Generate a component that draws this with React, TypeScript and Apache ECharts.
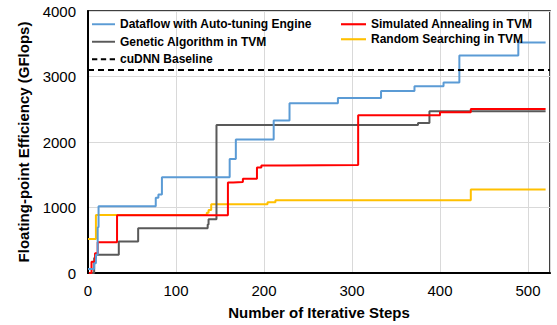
import React, { useEffect, useRef } from "react";
import * as echarts from "echarts";

// [step, GFlops] points; the value changes at the given step
const dataflowSteps = [
  [0, 60], [7, 150], [9, 280], [11, 700], [12, 1020], [77, 1150], [80, 1200], [84, 1460],
  [161, 1740], [168, 2040], [211, 2330], [229, 2590], [284, 2670], [333, 2780],
  [371, 2850], [404, 2910], [422, 3320], [489, 3520], [520, 3520],
];
const geneticSteps = [
  [2, 0], [7, 230], [9, 280], [35, 480], [57, 683], [136, 740], [137, 820],
  [146, 2258], [375, 2290], [388, 2470], [520, 2470],
];
const annealingSteps = [
  [1, 0], [4, 170], [8, 300], [11, 470], [33, 880], [159, 1380], [165, 1390],
  [176, 1440], [192, 1610], [197, 1640], [223, 1650], [307, 2410], [400, 2455],
  [435, 2505], [520, 2505],
];
const randomSteps = [
  [0, 520], [9, 885], [135, 920], [137, 960], [140, 1050], [204, 1080], [213, 1110],
  [435, 1275], [520, 1275],
];
const cudnnBaseline = 3100;
const xMax = 525;

const FONT = "'Liberation Sans', Arial, sans-serif";
const SOLID_ICON = "path://M0,0h26v2.2h-26z";
const DASH_ICON = "path://M0,0h6v2.2h-6zM10,0h6v2.2h-6zM20,0h6v2.2h-6z";

export default function App() {
  const ref = useRef<HTMLDivElement>(null);
  useEffect(() => {
    if (!ref.current) return;
    const chart = echarts.init(ref.current, undefined, { renderer: "svg" });
    const legendText = { fontFamily: FONT, fontSize: 12, fontWeight: "bold", color: "#000", lineHeight: 12.5 };
    chart.setOption({
      animation: false,
      textStyle: { fontFamily: FONT },
      grid: {
        left: 88, right: 7, top: 11, bottom: 48,
        show: true, borderColor: "#000", borderWidth: 1.5,
      },
      legend: [
        {
          data: [
            { name: "Dataflow with Auto-tuning Engine", icon: SOLID_ICON },
            { name: "Genetic Algorithm in TVM", icon: SOLID_ICON },
            { name: "cuDNN Baseline", icon: DASH_ICON },
          ],
          orient: "vertical", left: 92, top: 18, padding: 0,
          itemWidth: 23, itemHeight: 2.2, itemGap: 5,
          textStyle: legendText,
        },
        {
          data: [
            { name: "Simulated Annealing in TVM", icon: SOLID_ICON },
            { name: "Random Searching in TVM", icon: SOLID_ICON },
          ],
          orient: "vertical", left: 341, top: 18, padding: 0,
          itemWidth: 25, itemHeight: 2.2, itemGap: 2.5,
          textStyle: legendText,
        },
      ],
      xAxis: {
        type: "value", min: 0, max: xMax, interval: 100,
        name: "Number of Iterative Steps", nameLocation: "middle", nameGap: 32,
        nameTextStyle: { fontFamily: FONT, fontSize: 15, fontWeight: "bold", color: "#000" },
        axisLine: { lineStyle: { color: "#000", width: 2 } },
        axisTick: { show: false },
        axisLabel: {
          fontFamily: FONT, fontSize: 15, color: "#000", margin: 10,
          formatter: (v: number) => (v % 100 === 0 ? String(v) : ""),
        },
        splitLine: { lineStyle: { color: "#d9d9d9", width: 1 } },
      },
      yAxis: {
        type: "value", min: 0, max: 4000, interval: 1000,
        name: "Floating-point Efficiency (GFlops)", nameLocation: "middle", nameGap: 57,
        nameTextStyle: { fontFamily: FONT, fontSize: 15, fontWeight: "bold", color: "#000" },
        axisLine: { show: true, lineStyle: { color: "#000", width: 2 } },
        axisTick: { show: false },
        axisLabel: {
          fontFamily: FONT, fontSize: 15, color: "#000", margin: 12,
          formatter: (v: number) => String(v),
        },
        splitLine: { lineStyle: { color: "#d9d9d9", width: 1 } },
      },
      series: [
        {
          name: "Random Searching in TVM", type: "line", step: "end", symbol: "none",
          data: randomSteps, lineStyle: { color: "#FFC000", width: 2 }, itemStyle: { color: "#FFC000" },
        },
        {
          name: "Genetic Algorithm in TVM", type: "line", step: "end", symbol: "none",
          data: geneticSteps, lineStyle: { color: "#595959", width: 2 }, itemStyle: { color: "#595959" },
        },
        {
          name: "Simulated Annealing in TVM", type: "line", step: "end", symbol: "none",
          data: annealingSteps, lineStyle: { color: "#FF0000", width: 2 }, itemStyle: { color: "#FF0000" },
        },
        {
          name: "Dataflow with Auto-tuning Engine", type: "line", step: "end", symbol: "none",
          data: dataflowSteps, lineStyle: { color: "#5B9BD5", width: 2 }, itemStyle: { color: "#5B9BD5" },
        },
        {
          name: "cuDNN Baseline", type: "line", symbol: "none",
          data: [[0, cudnnBaseline], [xMax, cudnnBaseline]],
          lineStyle: { color: "#000", width: 2, type: [6, 4] }, itemStyle: { color: "#000" },
        },
      ],
    });
    return () => chart.dispose();
  }, []);
  return (
    <div
      ref={ref}
      style={{ position: "absolute", left: 0, top: 0, width: 557, height: 325, overflow: "hidden" }}
    />
  );
}
